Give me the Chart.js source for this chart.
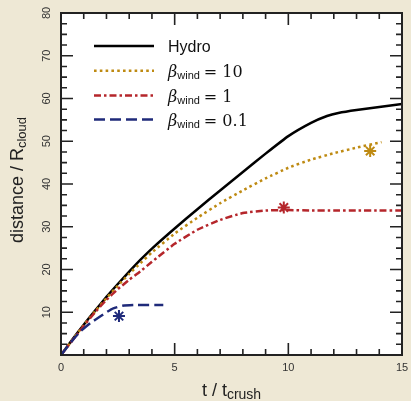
<!DOCTYPE html>
<html>
<head>
<meta charset="utf-8">
<script src="https://cdn.jsdelivr.net/npm/chart.js@4.4.0/dist/chart.umd.min.js"></script>
<style>
  html, body { margin:0; padding:0; background:#EEE8D5; }
  #wrap { width:411px; height:401px; }
</style>
</head>
<body>
<div id="wrap"><canvas id="chart" width="411" height="401"></canvas></div>
<script>
// Données : distance / R_cloud en fonction de t / t_crush
const hydroT = [0, 0.5, 1, 1.5, 2, 2.5, 3, 3.5, 4, 5, 6, 7, 8, 9, 10, 11, 11.7, 12.2, 13, 14, 15];
const hydroD = [0, 3.6, 7.1, 10.4, 13.6, 16.6, 19.5, 22.3, 24.9, 29.6, 34.1, 38.5, 42.8, 47.1, 51.2, 54.3, 55.9, 56.6, 57.3, 58, 58.7];

const b10T = [0, 0.5, 1, 1.5, 2, 2.5, 3, 3.5, 4, 5, 6, 7, 8, 9, 10, 11, 12, 13, 14.1];
const b10D = [0, 3.5, 7, 10.2, 13.3, 16.2, 19, 21.5, 24, 28.4, 32.1, 35.5, 38.5, 41.3, 43.8, 45.7, 47.2, 48.5, 49.8];

const b1T = [0, 0.5, 1, 1.5, 2, 2.5, 3, 3.5, 4, 5, 6, 7, 8, 9, 10, 11, 12, 13, 14, 15];
const b1D = [0, 3.4, 6.8, 10, 12.9, 15.4, 17.6, 19.6, 21.8, 26, 29.3, 31.6, 33.2, 33.8, 33.9, 33.8, 33.8, 33.8, 33.8, 33.8];

const b01T = [0, 0.5, 0.85, 1.3, 1.72, 2, 2.3, 2.7, 3.2, 4.5];
const b01D = [0, 3.4, 5.5, 7.5, 9, 10, 10.9, 11.5, 11.7, 11.7];

// marqueurs « * »
const starT = [13.6, 9.8, 2.55];
const starD = [47.7, 34.5, 9.1];

const seriesLabels = ['Hydro', '10', '1', '0.1'];
const colors = ['#000000', '#BE8A12', '#B5262B', '#1F2A7A'];

const xMin = 0, xMax = 15, yMin = 0, yMax = 80;
const xTickLabels = [0, 5, 10, 15];
const yTickLabels = [10, 20, 30, 40, 50, 60, 70, 80];

const SANS = '"Liberation Sans", Arial, sans-serif';
const SERIF = '"DejaVu Serif", serif';

function pts(t, d) { return t.map((v, i) => ({ x: v, y: d[i] })); }

// Fond blanc de la zone de tracé
const plotBg = {
  id: 'plotBg',
  beforeDraw(chart) {
    const a = chart.chartArea, c = chart.ctx;
    c.save();
    c.fillStyle = '#ffffff';
    c.fillRect(a.left, a.top, a.right - a.left, a.bottom - a.top);
    c.restore();
  }
};

// Cadre + graduations vers l'intérieur sur les 4 côtés
const frameTicks = {
  id: 'frameTicks',
  afterDatasetsDraw(chart) {
    const a = chart.chartArea, c = chart.ctx;
    const xs = chart.scales.x, ys = chart.scales.y;
    c.save();
    c.strokeStyle = '#222';
    c.lineWidth = 1.6;
    c.beginPath();
    for (let t = xMin; t <= xMax; t += 1) {
      const px = xs.getPixelForValue(t);
      const len = t % 5 === 0 ? 12 : 6;
      c.moveTo(px, a.bottom); c.lineTo(px, a.bottom - len);
      c.moveTo(px, a.top); c.lineTo(px, a.top + len);
    }
    for (let v = yMin; v <= yMax; v += 2.5) {
      const py = ys.getPixelForValue(v);
      const len = v % 10 === 0 ? 12 : 6;
      c.moveTo(a.left, py); c.lineTo(a.left + len, py);
      c.moveTo(a.right, py); c.lineTo(a.right - len, py);
    }
    c.stroke();
    c.lineWidth = 2;
    c.strokeRect(a.left, a.top, a.right - a.left, a.bottom - a.top);
    c.restore();
  }
};

// texte avec indice (R_cloud, t_crush, β_wind)
function subText(c, x, y, main, mainFont, sub, subFont, drop) {
  c.font = mainFont;
  c.fillText(main, x, y);
  const w = c.measureText(main).width;
  c.font = subFont;
  c.fillText(sub, x + w, y + drop);
  return w + c.measureText(sub).width;
}

const axisTitles = {
  id: 'axisTitles',
  afterDraw(chart) {
    const a = chart.chartArea, c = chart.ctx;
    c.save();
    c.fillStyle = '#222';
    c.textBaseline = 'alphabetic';
    c.textAlign = 'left';
    // axe x
    const f1 = '18px ' + SANS, f2 = '14px ' + SANS;
    c.font = f1; const w1 = c.measureText('t / t').width;
    c.font = f2; const w2 = c.measureText('crush').width;
    const cx = (a.left + a.right) / 2;
    subText(c, cx - (w1 + w2) / 2, 396, 't / t', f1, 'crush', f2, 3);
    // axe y
    c.translate(23, 180);
    c.rotate(-Math.PI / 2);
    const g2 = '13px ' + SANS;
    c.font = f1; const v1 = c.measureText('distance / R').width;
    c.font = g2; const v2 = c.measureText('cloud').width;
    subText(c, -(v1 + v2) / 2, 0, 'distance / R', f1, 'cloud', g2, 3);
    c.restore();
  }
};

// Légende dessinée à partir des datasets
const legendBox = {
  id: 'legendBox',
  afterDraw(chart) {
    const c = chart.ctx;
    const rows = [46, 70.7, 95.5, 119.5];
    c.save();
    seriesLabels.forEach((lab, i) => {
      const ds = chart.data.datasets[i];
      const y = rows[i];
      c.strokeStyle = ds.borderColor;
      c.lineWidth = ds.borderWidth;
      c.setLineDash(ds.borderDash || []);
      c.lineCap = 'butt';
      c.beginPath(); c.moveTo(94, y); c.lineTo(154, y); c.stroke();
      c.setLineDash([]);
      c.fillStyle = '#111';
      c.textBaseline = 'alphabetic';
      c.textAlign = 'left';
      if (i === 0) {
        c.font = '16px ' + SANS;
        c.fillText(lab, 168, y + 6);
      } else {
        const w = subText(c, 168, y + 6, 'β', 'italic 16px ' + SERIF, 'wind', '11px ' + SANS, 2.5);
        c.font = '16px ' + SERIF;
        c.fillText('= ' + lab, 168 + w + 4, y + 6);
      }
    });
    c.restore();
  }
};

const lineDefs = [
  { t: hydroT, d: hydroD, dash: [] },
  { t: b10T, d: b10D, dash: [2.6, 3.2] },
  { t: b1T, d: b1D, dash: [7, 3, 2.5, 3] },
  { t: b01T, d: b01D, dash: [11, 5] }
];

const datasets = lineDefs.map((s, i) => ({
  label: seriesLabels[i],
  data: pts(s.t, s.d),
  showLine: true,
  borderColor: colors[i],
  borderWidth: 2.5,
  borderDash: s.dash,
  pointRadius: 0,
  tension: 0.15,
  fill: false,
  order: 4 - i
}));

// marqueurs étoile (β = 10, 1, 0.1)
starT.forEach((t, i) => {
  datasets.push({
    label: 'star' + i,
    data: [{ x: t, y: starD[i] }],
    showLine: false,
    pointStyle: 'star',
    pointRadius: 6,
    borderColor: colors[i + 1],
    backgroundColor: colors[i + 1],
    borderWidth: 2
  });
});

new Chart(document.getElementById('chart'), {
  type: 'scatter',
  data: { datasets },
  options: {
    responsive: false,
    animation: false,
    layout: { padding: { top: 13, right: 9, left: 0, bottom: 0 } },
    plugins: { legend: { display: false }, tooltip: { enabled: false } },
    scales: {
      x: {
        type: 'linear', min: xMin, max: xMax,
        afterFit: s => { s.height = 46; s.paddingLeft = 0; s.paddingRight = 0; },
        afterBuildTicks: s => { s.ticks = xTickLabels.map(v => ({ value: v })); },
        grid: { display: false, drawTicks: false },
        border: { display: false },
        ticks: { color: '#333', font: { family: SANS, size: 11 }, padding: 6, maxRotation: 0 }
      },
      y: {
        type: 'linear', min: yMin, max: yMax,
        afterFit: s => { s.width = 61; s.paddingTop = 0; s.paddingBottom = 0; },
        afterBuildTicks: s => { s.ticks = yTickLabels.map(v => ({ value: v })); },
        grid: { display: false, drawTicks: false },
        border: { display: false },
        ticks: { color: '#333', font: { family: SANS, size: 11 }, padding: 8,
                 minRotation: 90, maxRotation: 90, crossAlign: 'center' }
      }
    }
  },
  plugins: [plotBg, frameTicks, axisTitles, legendBox]
});
</script>
</body>
</html>
